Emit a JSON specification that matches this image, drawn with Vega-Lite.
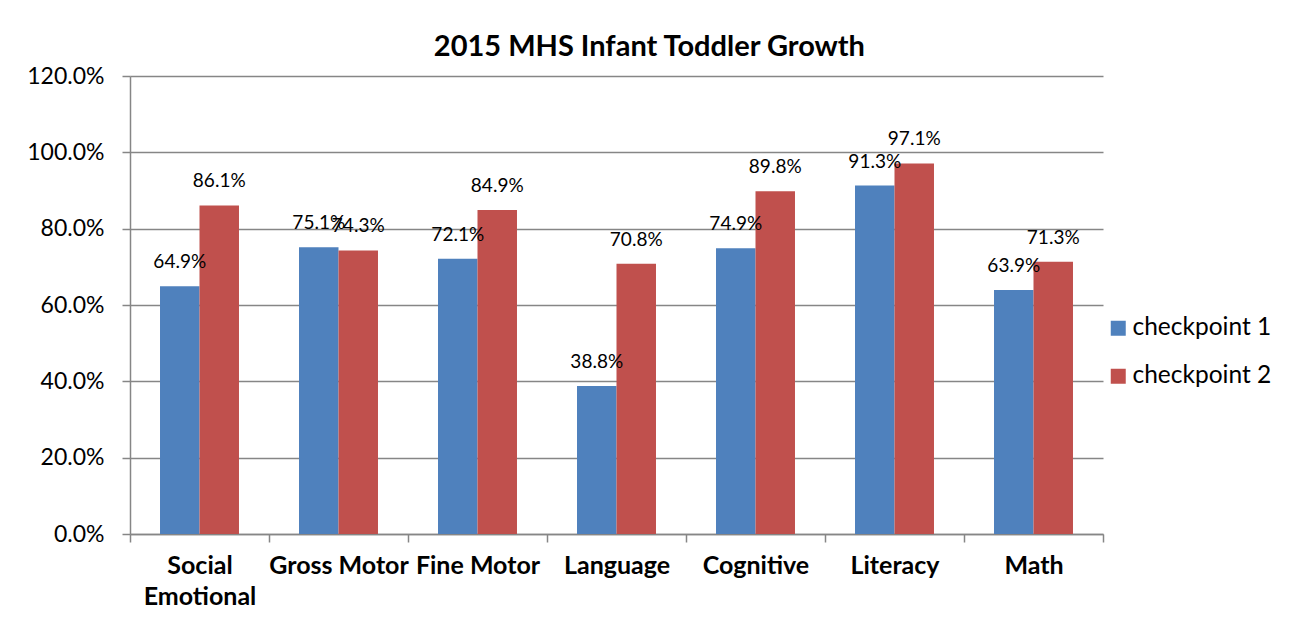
{
  "$schema": "https://vega.github.io/schema/vega-lite/v6.json",
  "width": 973,
  "height": 458,
  "padding": {"left": 26, "top": 33, "right": 5, "bottom": 5},
  "background": "white",
  "config": {
    "view": {"stroke": null},
    "font": "Lato"
  },
  "title": {
    "text": "2015 MHS Infant Toddler Growth",
    "font": "Lato",
    "fontSize": 29,
    "fontWeight": "bold",
    "color": "black",
    "anchor": "middle",
    "frame": "bounds",
    "offset": 3
  },
  "data": {
    "values": [
      {"category": "Social Emotional", "series": "checkpoint 1", "value": 0.649},
      {"category": "Social Emotional", "series": "checkpoint 2", "value": 0.861},
      {"category": "Gross Motor", "series": "checkpoint 1", "value": 0.751},
      {"category": "Gross Motor", "series": "checkpoint 2", "value": 0.743},
      {"category": "Fine Motor", "series": "checkpoint 1", "value": 0.721},
      {"category": "Fine Motor", "series": "checkpoint 2", "value": 0.849},
      {"category": "Language", "series": "checkpoint 1", "value": 0.388},
      {"category": "Language", "series": "checkpoint 2", "value": 0.708},
      {"category": "Cognitive", "series": "checkpoint 1", "value": 0.749},
      {"category": "Cognitive", "series": "checkpoint 2", "value": 0.898},
      {"category": "Literacy", "series": "checkpoint 1", "value": 0.913},
      {"category": "Literacy", "series": "checkpoint 2", "value": 0.971},
      {"category": "Math", "series": "checkpoint 1", "value": 0.639},
      {"category": "Math", "series": "checkpoint 2", "value": 0.713}
    ]
  },
  "encoding": {
    "x": {
      "field": "category",
      "type": "nominal",
      "sort": ["Social Emotional", "Gross Motor", "Fine Motor", "Language", "Cognitive", "Literacy", "Math"],
      "scale": {"paddingInner": 0, "paddingOuter": 0},
      "title": null,
      "axis": {
        "labelAngle": 0,
        "labelFont": "Lato",
        "labelFontSize": 25,
        "labelFontWeight": "bold",
        "labelColor": "black",
        "labelPadding": 11,
        "labelLineHeight": 31,
        "labelExpr": "datum.label == 'Social Emotional' ? ['Social', 'Emotional'] : datum.label",
        "tickBand": "extent",
        "tickSize": 8,
        "tickColor": "#868686",
        "domainColor": "#868686",
        "domainWidth": 1.5,
        "tickWidth": 1.5
      }
    },
    "xOffset": {
      "field": "series",
      "scale": {"paddingInner": 0, "paddingOuter": 0.76}
    },
    "y": {
      "field": "value",
      "type": "quantitative",
      "scale": {"domain": [0, 1.2], "nice": false},
      "title": null,
      "axis": {
        "values": [0, 0.2, 0.4, 0.6, 0.8, 1.0, 1.2],
        "format": ".1%",
        "labelFont": "Lato",
        "labelFontSize": 23,
        "labelColor": "black",
        "labelPadding": 18,
        "tickSize": 8,
        "tickColor": "#868686",
        "tickWidth": 1.5,
        "domainColor": "#868686",
        "domainWidth": 1.5,
        "gridColor": "#868686",
        "gridWidth": 1.5,
        "grid": true
      }
    }
  },
  "layer": [
    {
      "mark": {"type": "bar"},
      "encoding": {
        "color": {
          "field": "series",
          "type": "nominal",
          "scale": {"domain": ["checkpoint 1", "checkpoint 2"], "range": ["#4F81BD", "#C0504D"]},
          "legend": {
            "title": null,
            "orient": "none",
            "legendX": 976,
            "legendY": 240,
            "symbolType": "square",
            "symbolSize": 225,
            "symbolStrokeWidth": 0,
            "labelFont": "Lato",
            "labelFontSize": 24.5,
            "labelColor": "black",
            "labelOffset": 2,
            "rowPadding": 23
          }
        }
      }
    },
    {
      "mark": {"type": "text", "baseline": "middle", "dy": -24, "fontSize": 19, "font": "Lato", "color": "black"},
      "encoding": {
        "text": {"field": "value", "type": "quantitative", "format": ".1%"}
      }
    }
  ]
}
